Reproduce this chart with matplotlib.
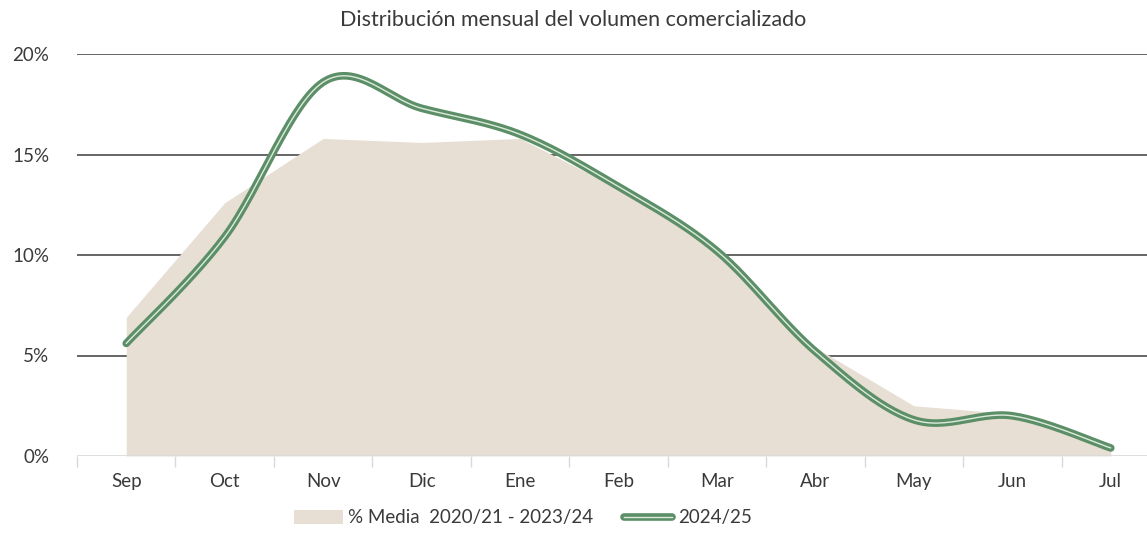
import numpy as np
import matplotlib.pyplot as plt
from matplotlib.lines import Line2D
from matplotlib.patches import Patch
from matplotlib.legend_handler import HandlerTuple

months = ['Sep', 'Oct', 'Nov', 'Dic', 'Ene', 'Feb', 'Mar', 'Abr', 'May', 'Jun', 'Jul']
media = [6.9, 12.6, 15.8, 15.6, 15.8, 13.3, 10.3, 5.4, 2.5, 2.1, 0.5]  # % media 2020/21-2023/24
cur = [5.6, 10.9, 18.6, 17.3, 16.0, 13.4, 10.2, 5.2, 1.8, 2.0, 0.4]  # 2024/25
yticks = [0, 5, 10, 15, 20]

area_col = '#E7DFD4'
green = '#5C8F67'
inner = '#DDEBDD'
text_col = '#3A3A3A'


def smooth(x, y, n=30):
    # Excel-like smoothed line (Catmull-Rom through the points)
    x = np.asarray(x, float)
    y = np.asarray(y, float)
    px = np.concatenate([[x[0]], x, [x[-1]]])
    py = np.concatenate([[y[0]], y, [y[-1]]])
    xs, ys = [], []
    t = np.linspace(0, 1, n)
    for i in range(1, len(px) - 2):
        p0, p1, p2, p3 = [np.array([px[j], py[j]]) for j in (i - 1, i, i + 1, i + 2)]
        c1 = p1 + (p2 - p0) / 6
        c2 = p2 - (p3 - p1) / 6
        pts = ((1 - t) ** 3)[:, None] * p1 + (3 * (1 - t) ** 2 * t)[:, None] * c1 \
            + (3 * (1 - t) * t ** 2)[:, None] * c2 + (t ** 3)[:, None] * p2
        xs.extend(pts[:, 0])
        ys.extend(pts[:, 1])
    return np.array(xs), np.array(ys)


plt.rcParams['font.family'] = ['Lato', 'DejaVu Sans']

fig = plt.figure(figsize=(11.47, 5.37), dpi=100)
ax = fig.add_axes([77 / 1147, 1 - 456 / 537, 1083 / 1147, (456 - 54) / 537])

x = np.arange(len(months))
ax.fill_between(x, 0, media, color=area_col, lw=0, zorder=2)

sx, sy = smooth(x, cur)
ax.plot(sx, sy, color=green, lw=5.5, solid_capstyle='round', zorder=4)
ax.plot(sx, sy, color=inner, lw=1.0, solid_capstyle='round', zorder=5)

ax.set_xlim(-0.5, 10.5)
ax.set_ylim(0, 20)
ax.set_yticks(yticks)
ax.set_yticklabels([f'{v}%' for v in yticks])
for v in yticks[1:]:
    ax.axhline(v, color='#3C3C3C', lw=1.1, zorder=1)
ax.axhline(0, color='#D9D9D9', lw=1.2, zorder=3)

ax.set_xticks(x)
ax.set_xticklabels(months)
ax.set_xticks(np.arange(-0.5, 11, 1), minor=True)
ax.tick_params(axis='x', which='major', length=0, pad=12, labelsize=13.5, colors=text_col)
ax.tick_params(axis='x', which='minor', length=8, color='#D9D9D9', width=1)
ax.tick_params(axis='y', length=0, pad=20, labelsize=13.5, colors=text_col)
for s in ax.spines.values():
    s.set_visible(False)

fig.text(0.5, 0.962, 'Distribución mensual del volumen comercializado',
         ha='center', va='center', fontsize=15.5, color=text_col)

h1 = Patch(facecolor=area_col, edgecolor='none')
h2 = (Line2D([], [], color=green, lw=5.5, solid_capstyle='round'),
      Line2D([], [], color=inner, lw=1.0))
fig.legend([h1, h2], ['% Media  2020/21 - 2023/24', '2024/25'],
           handler_map={tuple: HandlerTuple(ndivide=1)},
           loc='center', bbox_to_anchor=(523 / 1147, 1 - 518 / 537), ncol=2,
           frameon=False, fontsize=13.5, labelcolor=text_col,
           handlelength=2.6, handletextpad=0.3, columnspacing=1.6)

fig.savefig('out.png', dpi=100)
